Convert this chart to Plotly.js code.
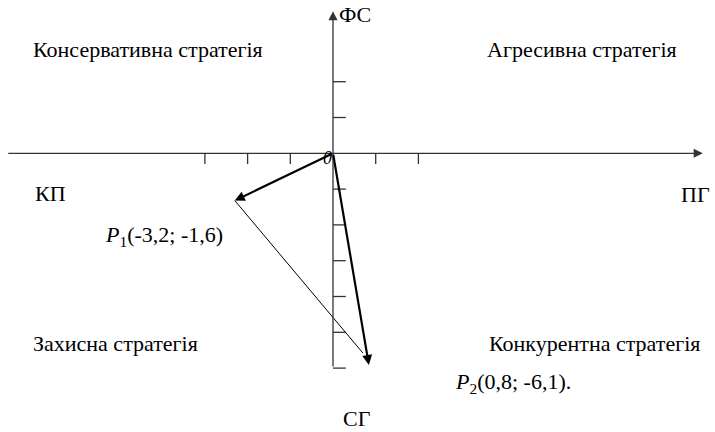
<!DOCTYPE html>
<html>
<head>
<meta charset="utf-8">
<script src="https://cdn.plot.ly/plotly-3.0.1.min.js"></script>
<style>
  html, body { margin: 0; padding: 0; background: #fff; }
  #chart { width: 715px; height: 432px; }
</style>
</head>
<body>
<div id="chart"></div>
<script>
// axis ticks (units of the drawing grid)
const xTicks = [-3, -2, -1, 1, 2];
const yTicks = [2, 1, -1, -2, -3, -4, -5, -6];
const xAxisEnds = [-7.64, 8.66];
const yAxisEnds = [-6, 3.97];

// vectors as drawn, and the thin connecting line
const origin = [0, 0];
const p1 = [-2.3, -1.32];
const p2 = [0.84, -5.91];
const linkEnd = [0.7, -5.58];

// texts
const quadrantNames = ['Консервативна стратегія', 'Агресивна стратегія', 'Захисна стратегія', 'Конкурентна стратегія'];
const axisNames = ['ПГ', 'КП', 'ФС', 'СГ'];
const pointLabels = ['<i>P</i><sub>1</sub>(-3,2; -1,6)', '<i>P</i><sub>2</sub>(0,8; -6,1).'];

const W = 715, H = 432;
const tickLen = 0.3;
const font = {family: 'Liberation Serif', size: 22, color: '#000'};

// tick marks: x ticks hang below the axis, y ticks stick out to the right
const tx = [], ty = [];
xTicks.forEach(v => { tx.push(v, v, null); ty.push(0, -tickLen, null); });
yTicks.forEach(v => { tx.push(0, tickLen, null); ty.push(v, v, null); });

const traces = [
    {x: tx, y: ty, mode: 'lines', line: {color: '#333', width: 1.3}, hoverinfo: 'skip'},
    {x: [p1[0], linkEnd[0]], y: [p1[1], linkEnd[1]], mode: 'lines', line: {color: '#000', width: 1}, hoverinfo: 'skip'}
];

function arrow(tail, head, width, color, size) {
    return {
        x: head[0], y: head[1], ax: tail[0], ay: tail[1],
        xref: 'x', yref: 'y', axref: 'x', ayref: 'y',
        text: '', showarrow: true, arrowhead: 2, arrowsize: size,
        arrowwidth: width, arrowcolor: color, standoff: 0, startstandoff: 0
    };
}

function label(text, px, py, anchor, f) {
    return {
        text: text, xref: 'paper', yref: 'paper', x: px / W, y: 1 - py / H,
        xanchor: anchor, yanchor: 'middle', showarrow: false, font: f || font
    };
}

const annotations = [
    arrow([xAxisEnds[0], 0], [xAxisEnds[1], 0], 1.3, '#333', 1.4),
    arrow([0, yAxisEnds[0]], [0, yAxisEnds[1]], 1.3, '#333', 1.4),
    arrow(origin, p1, 2.2, '#000', 0.9),
    arrow(origin, p2, 2.2, '#000', 0.9),
    label(quadrantNames[0], 31, 49, 'left'),
    label(quadrantNames[1], 679, 49, 'right'),
    label(quadrantNames[2], 31, 343, 'left'),
    label(quadrantNames[3], 702, 343, 'right'),
    label(axisNames[0], 712, 194, 'right'),
    label(axisNames[1], 33, 193, 'left'),
    label(axisNames[2], 337, 14, 'left'),
    label(axisNames[3], 341, 418, 'left'),
    label(pointLabels[0], 103, 236, 'left'),
    label(pointLabels[1], 453, 383, 'left'),
    label('<i>0</i>', 327, 158, 'center', {family: font.family, size: 18, color: '#000'})
];

const layout = {
    width: W,
    height: H,
    margin: {l: 0, r: 0, t: 0, b: 0},
    showlegend: false,
    paper_bgcolor: '#fff',
    plot_bgcolor: '#fff',
    xaxis: {range: [-333 / 42.7, 382 / 42.7], visible: false, fixedrange: true},
    yaxis: {range: [-278.7 / 35.8, 153.3 / 35.8], visible: false, fixedrange: true},
    annotations: annotations
};

Plotly.newPlot('chart', traces, layout, {displayModeBar: false, staticPlot: true});
</script>
</body>
</html>
